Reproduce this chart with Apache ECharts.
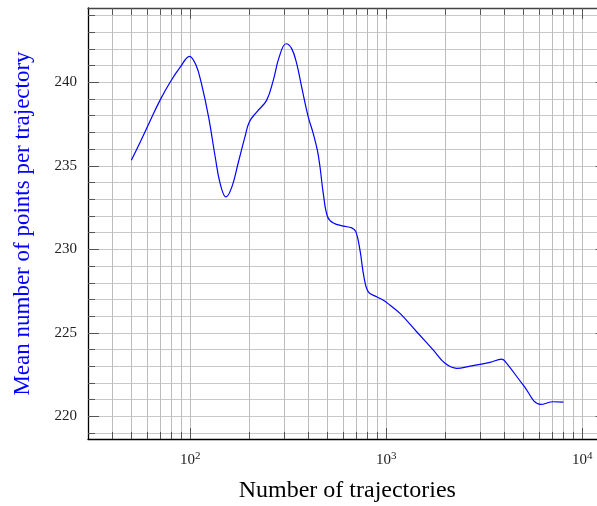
<!DOCTYPE html>
<html>
<head>
<meta charset="utf-8">
<script src="https://cdn.jsdelivr.net/npm/echarts@6/dist/echarts.min.js"></script>
<style>
  html, body { margin: 0; padding: 0; background: #fff; }
  #chart { width: 597px; height: 506px; }
</style>
</head>
<body>
<div id="chart"></div>
<script>
// Number of trajectories (x) and mean number of points per trajectory (y)
const trajectories = [50, 55, 62, 70, 79, 89, 99, 107, 114, 124, 134, 142, 152,
  163, 176, 190, 200, 218, 245, 265, 284, 308, 329, 349, 370,
  400, 424, 445, 459, 477, 502, 537, 604, 666, 700, 734, 769,
  809, 893, 966, 1045, 1175, 1429, 1738, 1994, 2287, 2673, 3381, 3881,
  4115, 5000, 6136, 7116, 8000];
const meanPoints = [235.34, 236.33, 237.63, 238.92, 240.02, 240.92, 241.56, 241.02, 239.92, 237.92, 235.53, 233.94, 233.14,
  233.74, 235.23, 236.73, 237.63, 238.22, 238.92, 240.12, 241.51, 242.31, 242.02, 241.12, 239.72,
  237.92, 236.93, 235.93, 234.93, 233.34, 231.94, 231.58, 231.39, 231.29, 231.05, 229.95, 228.36,
  227.46, 227.16, 226.96, 226.66, 226.17, 225.07, 223.97, 223.18, 222.88, 223.01, 223.24, 223.43,
  223.18, 221.88, 220.72, 220.88, 220.86];

// Tick labels
const xExponents = [2, 3, 4];          // labelled decades 10^2 .. 10^4
const yTickLabels = [220, 225, 230, 235, 240];

// Axis extents (log10 space on x)
const xMin = 1.478, xMax = 4.124;
const yMin = 218.65, yMax = 244.45;

// Tick positions on the log axis: every k*10^n inside the range
const xMinorTicks = [];
for (let n = 1; n <= 4; n++) {
  for (let k = 1; k <= 9; k++) {
    const v = Math.log10(k * Math.pow(10, n));
    if (v > xMin + 1e-6 && v < xMax) xMinorTicks.push(v);
  }
}
const yMinorTicks = [];
for (let v = Math.ceil(yMin); v <= Math.floor(yMax); v++) yMinorTicks.push(v);

const serif = '"Liberation Serif", "Times New Roman", serif';
const tickColor = '#555';

function xAxisDef(position, ticks, len, opts) {
  return Object.assign({
    type: 'value', min: xMin, max: xMax, position: position,
    axisLine: { show: false },
    axisTick: { show: true, inside: true, length: len, customValues: ticks,
                lineStyle: { color: tickColor, width: 1 } },
    axisLabel: { show: false },
    splitLine: { show: false }
  }, opts || {});
}
function yAxisDef(position, ticks, len, opts) {
  return Object.assign({
    type: 'value', min: yMin, max: yMax, position: position,
    axisLine: { show: false, onZero: false },
    axisTick: { show: true, inside: true, length: len, customValues: ticks,
                lineStyle: { color: tickColor, width: 1 } },
    axisLabel: { show: false },
    splitLine: { show: false }
  }, opts || {});
}

const chart = echarts.init(document.getElementById('chart'), null, { renderer: 'canvas' });
chart.setOption({
  animation: false,
  backgroundColor: '#fff',
  grid: { left: 88, top: 8, right: -9.6, bottom: 67, containLabel: false, outerBoundsMode: 'none' },
  xAxis: [
    xAxisDef('bottom', xMinorTicks, 7, {
      name: 'Number of trajectories',
      nameLocation: 'middle', nameGap: 40,
      nameTextStyle: { fontFamily: serif, fontSize: 24, color: '#000' },
      axisLine: { show: true, onZero: false, lineStyle: { color: '#000', width: 1.3 } },
      axisLabel: {
        show: true, customValues: xExponents, margin: 12,
        formatter: v => '{b|10}{s|' + Math.round(v) + '}',
        rich: {
          b: { fontFamily: serif, fontSize: 15, color: '#222' },
          s: { fontFamily: serif, fontSize: 11, color: '#222', padding: [0, 0, 8, 0] }
        }
      },
      splitLine: { show: true, lineStyle: { color: '#bdbdbd', width: 1 } }
    }),
    xAxisDef('bottom', xExponents, 11),
    xAxisDef('top', xMinorTicks, 7, {
      axisLine: { show: true, onZero: false, lineStyle: { color: '#444', width: 1.3 } }
    }),
    xAxisDef('top', xExponents, 11)
  ],
  yAxis: [
    yAxisDef('left', yMinorTicks, 7, {
      name: 'Mean number of points per trajectory',
      nameLocation: 'middle', nameGap: 54, nameRotate: 90,
      nameTextStyle: { fontFamily: serif, fontSize: 23, color: '#0000ff' },
      axisLine: { show: true, onZero: false, lineStyle: { color: '#000', width: 1.3 } },
      axisLabel: {
        show: true, customValues: yTickLabels, margin: 11,
        fontFamily: serif, fontSize: 15, color: '#222'
      },
      splitLine: { show: true, lineStyle: { color: '#c8c8c8', width: 1 } }
    }),
    yAxisDef('left', yTickLabels, 11),
    yAxisDef('right', yMinorTicks, 7),
    yAxisDef('right', yTickLabels, 11)
  ],
  series: [{
    type: 'line',
    xAxisIndex: 0, yAxisIndex: 0,
    data: trajectories.map((n, i) => [Math.log10(n), meanPoints[i]]),
    smooth: 0.4,
    showSymbol: false,
    symbol: 'none',
    lineStyle: { color: '#0000ff', width: 1.2 }
  }]
});
</script>
</body>
</html>
